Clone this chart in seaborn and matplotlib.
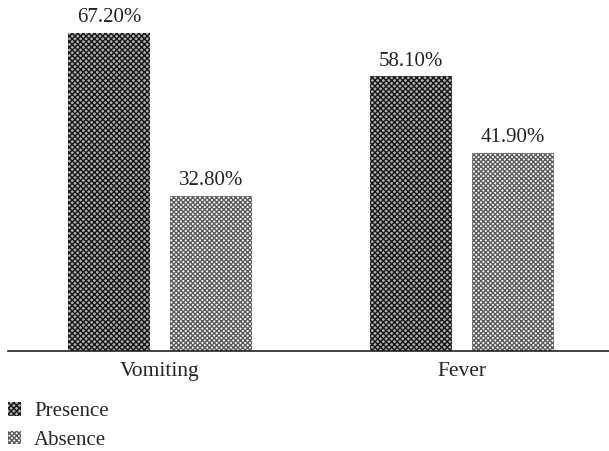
import seaborn as sns
import matplotlib.pyplot as plt
import pandas as pd
from matplotlib.patches import Patch

symptoms = ['Vomiting', 'Fever']
status = ['Presence', 'Absence']
presence = [67.2, 58.1]
absence = [32.8, 41.9]

df = pd.DataFrame({
    'symptom': symptoms * 2,
    'status': ['Presence'] * 2 + ['Absence'] * 2,
    'pct': presence + absence,
})

sns.set_style('white')
plt.rcParams['font.family'] = ['Liberation Serif', 'DejaVu Serif']
plt.rcParams['hatch.linewidth'] = 1.0

fig = plt.figure(figsize=(6.09, 4.51), dpi=100)
ax = fig.add_axes([8 / 609, 1 - 351 / 451, 1 - 8 / 609, 351 / 451])

sns.barplot(data=df, x='symptom', y='pct', hue='status', hue_order=status,
            order=symptoms, width=0.675, gap=0.196, ax=ax,
            palette=['white', 'white'], legend=False)

hatches = {'Presence': 'xxxxxx', 'Absence': 'xxxxxxx'}
faces = {'Presence': '#b0b0b0', 'Absence': '#ffffff'}
edges = {'Presence': '#151515', 'Absence': '#5a5a5a'}
for cont, name in zip(ax.containers, status):
    for bar in cont:
        bar.set_hatch(hatches[name])
        bar.set_facecolor(faces[name])
        bar.set_edgecolor(edges[name])
        bar.set_linewidth(0)
    ax.bar_label(cont, labels=[f'{v:.2f}%' for v in cont.datavalues],
                 padding=4, fontsize=15, color='#222222')

ax.set_xlim((8 - 160) / 302, (609 - 160) / 302)
ax.set_ylim(0, 351 / 318 * 67.2)
ax.set_xlabel('')
ax.set_ylabel('')
ax.set_yticks([])
ax.tick_params(axis='x', length=0, labelsize=15.5, pad=8, colors='#222222')
for side in ['top', 'right', 'left']:
    ax.spines[side].set_visible(False)
ax.spines['bottom'].set_color('#222222')
ax.spines['bottom'].set_linewidth(1.2)

handles = [Patch(facecolor=faces[n], edgecolor=edges[n], hatch=hatches[n], linewidth=0)
           for n in status]
fig.legend(handles, status, loc='upper left', bbox_to_anchor=(8 / 609, 1 - 402 / 451),
           frameon=False, fontsize=15, handlelength=0.63, handleheight=0.63,
           handletextpad=0.63, labelspacing=0.45, borderaxespad=0, borderpad=0)

fig.savefig('out.png', dpi=100)
